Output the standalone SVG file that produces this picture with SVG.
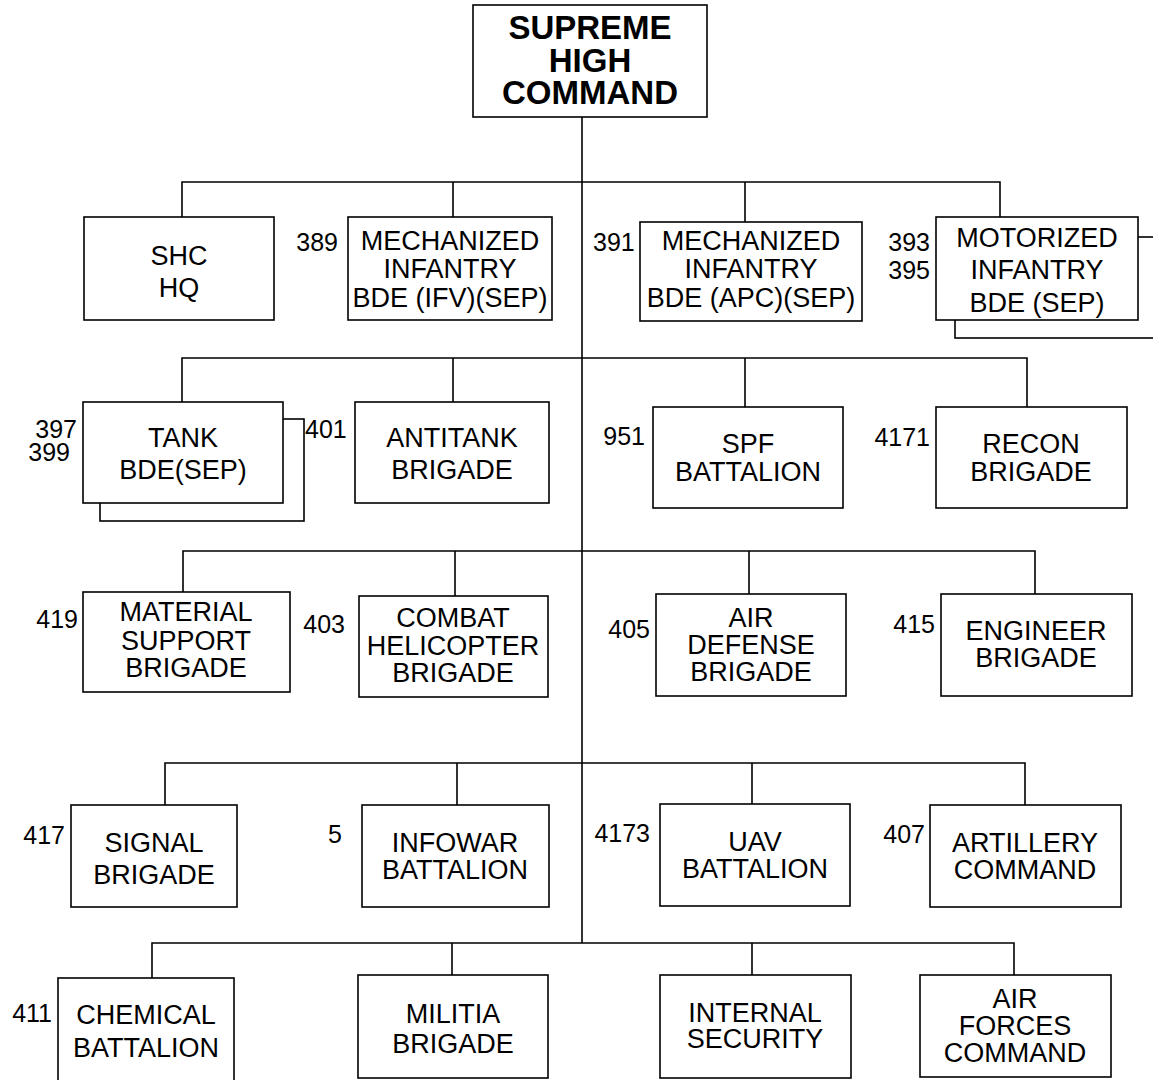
<svg xmlns="http://www.w3.org/2000/svg" width="1153" height="1080" viewBox="0 0 1153 1080">
<style>
rect{fill:#fff;stroke:#000;stroke-width:1.6}
.c line,.c path{stroke:#000;stroke-width:1.6;fill:none}
text{font-family:"Liberation Sans",Arial,sans-serif;font-size:27px;fill:#000}
.t{text-anchor:middle}
.n{font-size:25px;text-anchor:end}
.ns{font-size:25px;text-anchor:start}
.b{font-weight:bold;font-size:33px}
</style>
<rect x="0" y="0" width="1153" height="1080" style="stroke:none"/>
<g class="c" id="connectors">
<line x1="582" y1="117" x2="582" y2="943"/>
<path d="M182 217V182H1000V217M453 182V217M745 182V222"/>
<path d="M182 402V358H1027V407M453 358V402M745 358V407"/>
<path d="M183 592V551H1035V594M455 551V596M749 551V594"/>
<path d="M165 805V763H1025V805M457 763V805M752 763V804"/>
<path d="M152 978V943H1014V975M452 943V975M752 943V975"/>
</g>
<g id="shc"><rect x="473" y="5" width="234" height="112"/>
<text class="t b" x="590" y="39">SUPREME</text><text class="t b" x="590" y="72">HIGH</text><text class="t b" x="590" y="104">COMMAND</text></g>
<g id="shchq"><rect x="84" y="217" width="190" height="103"/><text class="t" x="179" y="265">SHC</text><text class="t" x="179" y="297">HQ</text></g>
<g id="mechifv"><rect x="348" y="217" width="204" height="103"/><text class="n" x="338" y="251">389</text>
<text class="t" x="450" y="250">MECHANIZED</text><text class="t" x="450" y="278">INFANTRY</text><text class="t" x="450" y="307">BDE (IFV)(SEP)</text></g>
<g id="mechapc"><rect x="640" y="222" width="222" height="99"/><text class="ns" x="593" y="251">391</text>
<text class="t" x="751" y="250">MECHANIZED</text><text class="t" x="751" y="278">INFANTRY</text><text class="t" x="751" y="307">BDE (APC)(SEP)</text></g>
<g id="motor"><rect x="955" y="237" width="210" height="101"/><rect x="936" y="217" width="202" height="103"/>
<text class="n" x="930" y="251">393</text><text class="n" x="930" y="279">395</text>
<text class="t" x="1037" y="247">MOTORIZED</text><text class="t" x="1037" y="279">INFANTRY</text><text class="t" x="1037" y="312">BDE (SEP)</text></g>
<g id="tank"><rect x="100" y="419" width="204" height="102"/><rect x="83" y="402" width="200" height="101"/>
<text class="n" x="77" y="438">397</text><text class="n" x="70" y="461">399</text>
<text class="t" x="183" y="447">TANK</text><text class="t" x="183" y="479">BDE(SEP)</text></g>
<g id="antitank"><rect x="355" y="402" width="194" height="101"/><text class="ns" x="305" y="438">401</text>
<text class="t" x="452" y="447">ANTITANK</text><text class="t" x="452" y="479">BRIGADE</text></g>
<g id="spf"><rect x="653" y="407" width="190" height="101"/><text class="n" x="645" y="445">951</text>
<text class="t" x="748" y="453">SPF</text><text class="t" x="748" y="481">BATTALION</text></g>
<g id="recon"><rect x="936" y="407" width="191" height="101"/><text class="n" x="930" y="446">4171</text>
<text class="t" x="1031" y="453">RECON</text><text class="t" x="1031" y="481">BRIGADE</text></g>
<g id="material"><rect x="83" y="592" width="207" height="100"/><text class="n" x="78" y="628">419</text>
<text class="t" x="186" y="621">MATERIAL</text><text class="t" x="186" y="650">SUPPORT</text><text class="t" x="186" y="677">BRIGADE</text></g>
<g id="heli"><rect x="359" y="596" width="189" height="101"/><text class="n" x="345" y="633">403</text>
<text class="t" x="453" y="627">COMBAT</text><text class="t" x="453" y="655">HELICOPTER</text><text class="t" x="453" y="682">BRIGADE</text></g>
<g id="airdef"><rect x="656" y="594" width="190" height="102"/><text class="n" x="650" y="638">405</text>
<text class="t" x="751" y="627">AIR</text><text class="t" x="751" y="654">DEFENSE</text><text class="t" x="751" y="681">BRIGADE</text></g>
<g id="engineer"><rect x="941" y="594" width="191" height="102"/><text class="n" x="935" y="633">415</text>
<text class="t" x="1036" y="640">ENGINEER</text><text class="t" x="1036" y="667">BRIGADE</text></g>
<g id="signal"><rect x="71" y="805" width="166" height="102"/><text class="n" x="65" y="844">417</text>
<text class="t" x="154" y="852">SIGNAL</text><text class="t" x="154" y="884">BRIGADE</text></g>
<g id="infowar"><rect x="362" y="805" width="187" height="102"/><text class="n" x="342" y="843">5</text>
<text class="t" x="455" y="852">INFOWAR</text><text class="t" x="455" y="879">BATTALION</text></g>
<g id="uav"><rect x="660" y="804" width="190" height="102"/><text class="n" x="650" y="842">4173</text>
<text class="t" x="755" y="851">UAV</text><text class="t" x="755" y="878">BATTALION</text></g>
<g id="artillery"><rect x="930" y="805" width="191" height="102"/><text class="n" x="925" y="843">407</text>
<text class="t" x="1025" y="852">ARTILLERY</text><text class="t" x="1025" y="879">COMMAND</text></g>
<g id="chemical"><rect x="58" y="978" width="176" height="130"/><text class="n" x="52" y="1022">411</text>
<text class="t" x="146" y="1024">CHEMICAL</text><text class="t" x="146" y="1057">BATTALION</text></g>
<g id="militia"><rect x="358" y="975" width="190" height="103"/>
<text class="t" x="453" y="1023">MILITIA</text><text class="t" x="453" y="1053">BRIGADE</text></g>
<g id="internal"><rect x="660" y="975" width="191" height="103"/>
<text class="t" x="755" y="1022">INTERNAL</text><text class="t" x="755" y="1048">SECURITY</text></g>
<g id="airforces"><rect x="920" y="975" width="191" height="102"/>
<text class="t" x="1015" y="1008">AIR</text><text class="t" x="1015" y="1035">FORCES</text><text class="t" x="1015" y="1062">COMMAND</text></g>
</svg>
